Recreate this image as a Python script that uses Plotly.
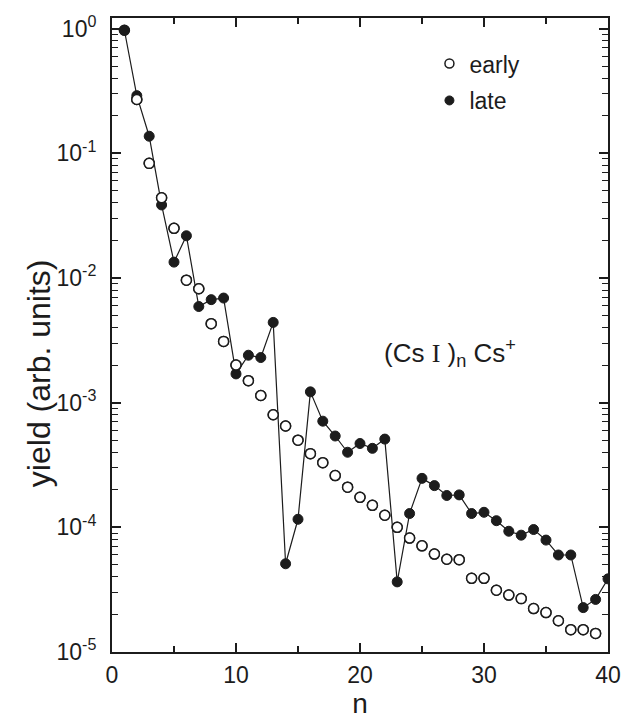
import plotly.graph_objects as go

# Cluster size n for each measured yield
n_late = list(range(1, 41))
n_early = list(range(1, 40))

# (CsI)n Cs+ yields, arbitrary units
yield_late = [0.97, 0.29, 0.137, 0.0385, 0.0134, 0.0218, 0.0059, 0.0067, 0.0069, 0.0017,
              0.0024, 0.0023, 0.0044, 5.1e-5, 1.16e-4, 1.22e-3, 7.1e-4, 5.4e-4, 4.0e-4, 4.7e-4,
              4.3e-4, 5.1e-4, 3.65e-5, 1.29e-4, 2.47e-4, 2.16e-4, 1.80e-4, 1.82e-4, 1.29e-4, 1.32e-4,
              1.13e-4, 9.3e-5, 8.65e-5, 9.6e-5, 7.9e-5, 6.0e-5, 6.0e-5, 2.27e-5, 2.64e-5, 3.86e-5]
yield_early = [0.97, 0.27, 0.083, 0.044, 0.025, 0.0096, 0.0082, 0.0043, 0.0031, 0.0020,
               0.0015, 0.00114, 0.0008, 0.00065, 0.0005, 0.00039, 0.00033, 0.00026, 0.00021, 0.000174,
               0.00015, 0.000125, 0.0001, 8.2e-5, 7.1e-5, 6.1e-5, 5.55e-5, 5.5e-5, 3.9e-5, 3.9e-5,
               3.13e-5, 2.86e-5, 2.68e-5, 2.23e-5, 2.07e-5, 1.78e-5, 1.51e-5, 1.51e-5, 1.41e-5]

x_ticks = [0, 10, 20, 30, 40]
y_exponents = [-5, -4, -3, -2, -1, 0]

INK = "#1c1c1c"
FONT = "Liberation Sans, Arial, sans-serif"

y_tickvals = [10.0 ** e for e in y_exponents]
y_ticktext = ["10<sup>%d</sup>" % e for e in y_exponents]
y_minor = [k * 10.0 ** e for e in y_exponents[:-1] for k in range(2, 10)]

fig = go.Figure()

fig.add_trace(go.Scatter(
    x=n_early, y=yield_early, mode="markers", showlegend=False,
    marker=dict(symbol="circle", size=10, color="white", line=dict(color=INK, width=1.5)),
))
fig.add_trace(go.Scatter(
    x=n_late, y=yield_late, mode="lines+markers", showlegend=False,
    line=dict(color=INK, width=1.2),
    marker=dict(symbol="circle", size=10, color=INK, line=dict(color=INK, width=1)),
))
# open circles redrawn above the line except where the first point sits under the filled one
fig.add_trace(go.Scatter(
    x=n_early[1:], y=yield_early[1:], mode="markers", showlegend=False,
    marker=dict(symbol="circle", size=10, color="white", line=dict(color=INK, width=1.5)),
))

# legend entries (markers only)
fig.add_trace(go.Scatter(
    x=[None], y=[None], mode="markers", name="early", legendgroup="a",
    marker=dict(symbol="circle", size=9, color="white", line=dict(color=INK, width=1.5)),
))
fig.add_trace(go.Scatter(
    x=[None], y=[None], mode="markers", name="late", legendgroup="b",
    marker=dict(symbol="circle", size=9, color=INK, line=dict(color=INK, width=1)),
))

fig.add_annotation(
    xref="paper", yref="paper", x=0.545, y=0.471, xanchor="left", yanchor="middle",
    text="(Cs <span style='font-family:Liberation Serif, Times New Roman, serif'>I</span> )<sub>n</sub> Cs<sup>+</sup>",
    showarrow=False, font=dict(family=FONT, size=26, color=INK),
)

# y-axis title, placed as a rotated label
fig.add_annotation(
    xref="paper", yref="paper", x=-0.147, y=0.44, xanchor="center", yanchor="middle",
    text="yield (arb. units)", textangle=-90, showarrow=False,
    font=dict(family=FONT, size=32, color=INK),
)

axis_common = dict(
    showline=True, linecolor=INK, linewidth=2, mirror="allticks",
    ticks="inside", tickcolor=INK, tickwidth=1.5,
    showgrid=False, zeroline=False,
    tickfont=dict(family=FONT, size=23, color=INK),
)

fig.update_xaxes(
    range=[0, 40], tickvals=x_ticks, ticklen=9,
    minor=dict(ticks="inside", tickvals=[5, 15, 25, 35], ticklen=6, tickcolor=INK, tickwidth=1.5),
    title=dict(text="n", font=dict(family=FONT, size=28, color=INK), standoff=6),
    ticklabelstandoff=1,
    **axis_common,
)
fig.update_yaxes(
    type="log", range=[-5, 0.085], tickvals=y_tickvals, ticktext=y_ticktext, ticklen=9,
    minor=dict(ticks="inside", tickvals=y_minor, ticklen=6, tickcolor=INK, tickwidth=1.2),
    ticklabelstandoff=9,
    **axis_common,
)

fig.update_layout(
    width=633, height=725,
    margin=dict(l=112, r=12, t=12, b=72),
    paper_bgcolor="white", plot_bgcolor="white",
    legend=dict(
        x=0.64, y=0.962, xanchor="left", yanchor="top",
        font=dict(family=FONT, size=23, color=INK),
        bgcolor="rgba(0,0,0,0)", tracegroupgap=4, traceorder="grouped",
    ),
)

fig.write_html("out.html")
